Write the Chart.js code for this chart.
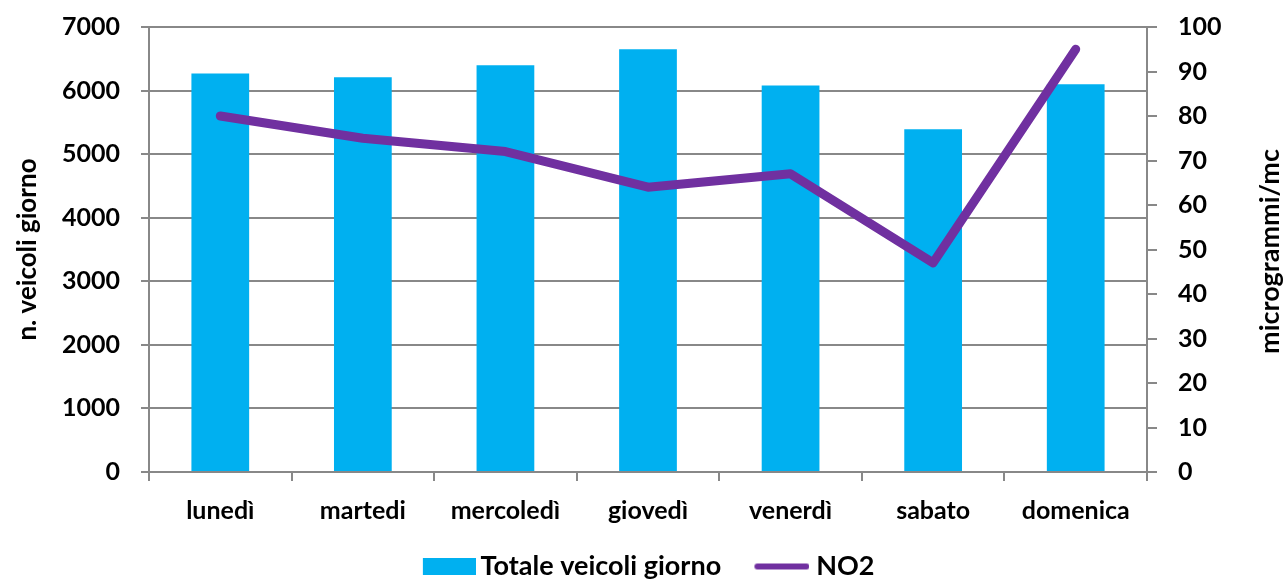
<!DOCTYPE html>
<html>
<head>
<meta charset="utf-8">
<script src="https://cdn.jsdelivr.net/npm/chart.js@4/dist/chart.umd.min.js"></script>
<style>
  html, body { margin: 0; padding: 0; background: #ffffff; }
  #wrap { width: 1284px; height: 580px; }
</style>
</head>
<body>
<div id="wrap"><canvas id="c" width="1284" height="580"></canvas></div>
<script>
// Days of the week
const days = ['lunedì', 'martedi', 'mercoledì', 'giovedì', 'venerdì', 'sabato', 'domenica'];
// Total vehicles per day
const vehicles = [6270, 6210, 6400, 6650, 6080, 5390, 6100];
// NO2 concentration (micrograms per cubic metre)
const no2 = [80, 75, 72, 64, 67, 47, 95];
// Axis titles
const leftTitle = 'n. veicoli giorno';
const rightTitle = 'microgrammi/mc';

const BLUE = '#00B0F0';
const PURPLE = '#7030A0';
const GRID = '#888888';
const FONT = 'Lato, "Open Sans", sans-serif';

Chart.defaults.font.family = FONT;
Chart.defaults.color = '#000000';

// Legend swatches: the visible mark sits at the right end of a wider,
// transparent canvas so it hugs its label text.
function swatch(w, h, markW, draw) {
  const cv = document.createElement('canvas');
  cv.width = w; cv.height = h;
  const g = cv.getContext('2d');
  draw(g, w - markW, markW, h);
  return cv;
}
const barSwatch = swatch(97, 17, 53, (g, x0, mw, h) => {
  g.fillStyle = BLUE;
  g.fillRect(x0, 0, mw, h);
});
const lineSwatch = swatch(93, 8, 55, (g, x0, mw, h) => {
  g.strokeStyle = PURPLE;
  g.lineWidth = 6;
  g.lineCap = 'round';
  g.beginPath();
  g.moveTo(x0 + 3, h / 2);
  g.lineTo(x0 + mw - 3, h / 2);
  g.stroke();
});

// Right-hand axis title, written bottom-to-top
const rightTitlePlugin = {
  id: 'rightTitle',
  afterDraw(chart) {
    const { ctx, chartArea } = chart;
    ctx.save();
    ctx.translate(1270, (chartArea.top + chartArea.bottom) / 2 + 2);
    ctx.rotate(-Math.PI / 2);
    ctx.font = 'bold 27px ' + FONT;
    ctx.fillStyle = '#000000';
    ctx.textAlign = 'center';
    ctx.textBaseline = 'middle';
    ctx.fillText(rightTitle, 0, 0);
    ctx.restore();
  }
};

// Vertical axes: no extra room reserved above/below for the end labels
function noEndPadding(scale) {
  scale.paddingTop = 0;
  scale.paddingBottom = 0;
}

new Chart(document.getElementById('c'), {
  data: {
    labels: days,
    datasets: [
      {
        type: 'bar',
        label: 'Totale veicoli giorno',
        data: vehicles,
        backgroundColor: BLUE,
        yAxisID: 'y',
        categoryPercentage: 1.0,
        barPercentage: 0.405,
        order: 2
      },
      {
        type: 'line',
        label: 'NO2',
        data: no2,
        borderColor: PURPLE,
        backgroundColor: PURPLE,
        borderWidth: 9,
        borderCapStyle: 'round',
        borderJoinStyle: 'round',
        pointRadius: 0,
        tension: 0,
        yAxisID: 'y1',
        order: 1
      }
    ]
  },
  plugins: [rightTitlePlugin],
  options: {
    responsive: false,
    animation: false,
    layout: { padding: { top: 27, bottom: -10, left: 0, right: 22 } },
    plugins: {
      tooltip: { enabled: false },
      legend: {
        position: 'bottom',
        labels: {
          usePointStyle: true,
          boxHeight: 17,
          pointStyleWidth: 79.5,
          padding: 2,
          font: { size: 27, weight: 'bold' },
          color: '#000000',
          generateLabels(chart) {
            return chart.data.datasets.map((ds, i) => ({
              text: ds.label,
              datasetIndex: i,
              fillStyle: ds.type === 'bar' ? BLUE : PURPLE,
              strokeStyle: ds.type === 'bar' ? BLUE : PURPLE,
              lineWidth: 0,
              pointStyle: ds.type === 'bar' ? barSwatch : lineSwatch,
              hidden: false,
              fontColor: '#000000'
            }));
          }
        }
      }
    },
    scales: {
      x: {
        offset: true,
        grid: {
          offset: true,
          drawOnChartArea: false,
          drawTicks: true,
          tickLength: 9,
          color: GRID,
          lineWidth: 2
        },
        border: { display: true, color: GRID, width: 2 },
        ticks: {
          padding: 15,
          font: { size: 25, weight: 'bold' },
          color: '#000000'
        },
        afterFit(scale) { scale.height = 79; }
      },
      y: {
        position: 'left',
        min: 0,
        max: 7000,
        ticks: {
          stepSize: 1000,
          padding: 21,
          font: { size: 25, weight: 'bold' },
          color: '#000000',
          callback: (v) => String(v)
        },
        grid: {
          color: GRID,
          lineWidth: 2,
          tickLength: 8,
          drawTicks: true
        },
        border: { display: true, color: GRID, width: 2 },
        title: {
          display: true,
          text: leftTitle,
          font: { size: 26, weight: 'bold' },
          color: '#000000',
          padding: { top: 12, bottom: 0 }
        },
        afterFit(scale) { scale.width = 149; noEndPadding(scale); }
      },
      y1: {
        position: 'right',
        min: 0,
        max: 100,
        ticks: {
          stepSize: 10,
          padding: 21,
          font: { size: 25, weight: 'bold' },
          color: '#000000',
          callback: (v) => String(v)
        },
        grid: {
          drawOnChartArea: false,
          color: GRID,
          lineWidth: 2,
          tickLength: 10,
          drawTicks: true
        },
        border: { display: true, color: GRID, width: 2 },
        afterFit(scale) { scale.width = 115; noEndPadding(scale); }
      }
    }
  }
});
</script>
</body>
</html>
